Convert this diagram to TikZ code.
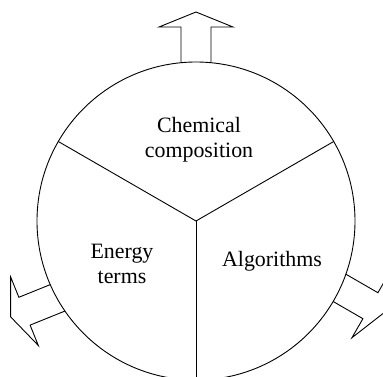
\documentclass[tikz,border=0pt]{standalone}
\usepackage{fontspec}
\setmainfont{Liberation Serif}
\begin{document}
\begin{tikzpicture}[x=1pt,y=1pt,line width=0.9pt,
  every node/.style={font=\fontsize{21.9}{25}\selectfont,align=center},
  outarrow/.pic={\draw[line join=miter] (-25,15) -- (35,15) -- (35,37) -- (50,0) -- (35,-37) -- (35,-15) -- (-25,-15);}]

	\useasboundingbox (-196,-155) rectangle (187,221);
	\clip (-196,-155) rectangle (187,221);

	\coordinate (o) at (0,0);
	\coordinate (l) at (150:159);
	\coordinate (r) at (30:159);
	\coordinate (b) at (270:159);

	\draw (o) circle (159);
	\draw (o) -- (l);
	\draw (o) -- (r);
	\draw (o) -- (b);

	% arrows leaving the circle
	\begin{scope}[even odd rule]
		\clip (-196,-155) rectangle (187,221) (o) circle (159);
		\pic[rotate=90] at (90:159) {outarrow};
		\pic[rotate=202] at (209:159) {outarrow};
		\pic[rotate=330] at (335:159) {outarrow};
	\end{scope}

	\node (chem) at (3, 81)    {Chemical\\composition};
	\node (energy) at (-74,-43) {Energy\\terms};
	\node (algo) at (76,-40)   {Algorithms};
\end{tikzpicture}
\end{document}
